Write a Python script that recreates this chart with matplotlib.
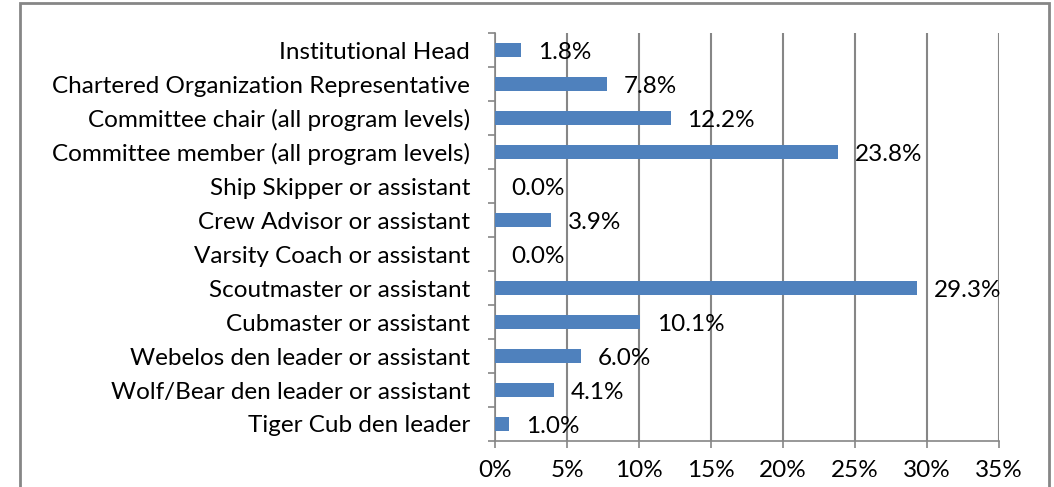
import matplotlib.pyplot as plt
from matplotlib.patches import Rectangle
from matplotlib.ticker import FixedLocator

roles = [
    "Institutional Head",
    "Chartered Organization Representative",
    "Committee chair (all program levels)",
    "Committee member (all program levels)",
    "Ship Skipper or assistant",
    "Crew Advisor or assistant",
    "Varsity Coach or assistant",
    "Scoutmaster or assistant",
    "Cubmaster or assistant",
    "Webelos den leader or assistant",
    "Wolf/Bear den leader or assistant",
    "Tiger Cub den leader",
]
pct = [1.8, 7.8, 12.2, 23.8, 0.0, 3.9, 0.0, 29.3, 10.1, 6.0, 4.1, 1.0]
x_ticks = [0, 5, 10, 15, 20, 25, 30, 35]

plt.rcParams['font.family'] = ['Lato', 'DejaVu Sans']
grey = '#868686'
fs = 17.5

fig = plt.figure(figsize=(10.54, 4.87), dpi=100)
ax = fig.add_axes([495 / 1054, 1 - 441 / 487, 504 / 1054, 408 / 487])

ypos = list(range(len(roles)))[::-1]
ax.barh(ypos, pct, height=0.4, color='#4F81BD', zorder=3)
for y, v in zip(ypos, pct):
    ax.annotate(f"{v:.1f}%", (v, y), xytext=(12, -2), textcoords='offset points',
                ha='left', va='center', fontsize=fs, zorder=4)

ax.set_xlim(0, 35)
ax.set_ylim(-0.5, len(roles) - 0.5)
ax.set_xticks(x_ticks)
ax.set_xticklabels([f"{t}%" for t in x_ticks], fontsize=fs)
ax.set_yticks(ypos)
ax.set_yticklabels(roles, fontsize=fs)
ax.yaxis.set_minor_locator(FixedLocator([i - 0.5 for i in range(len(roles) + 1)]))
ax.tick_params(axis='y', which='major', length=0, pad=18)
ax.tick_params(axis='y', which='minor', length=5, color=grey, width=1.2)
ax.tick_params(axis='x', length=5, color=grey, width=1.2, pad=9)

ax.grid(axis='x', color=grey, linewidth=1.5, zorder=0)
for s in ['top', 'right']:
    ax.spines[s].set_visible(False)
for s in ['left', 'bottom']:
    ax.spines[s].set_color(grey)
    ax.spines[s].set_linewidth(1.2)

fig.patches.append(Rectangle((20 / 1054, -0.05), 1029 / 1054, 1 - 3 / 487 + 0.05,
                             transform=fig.transFigure, fill=False,
                             edgecolor=grey, linewidth=2))

fig.savefig('out.png', dpi=100)
